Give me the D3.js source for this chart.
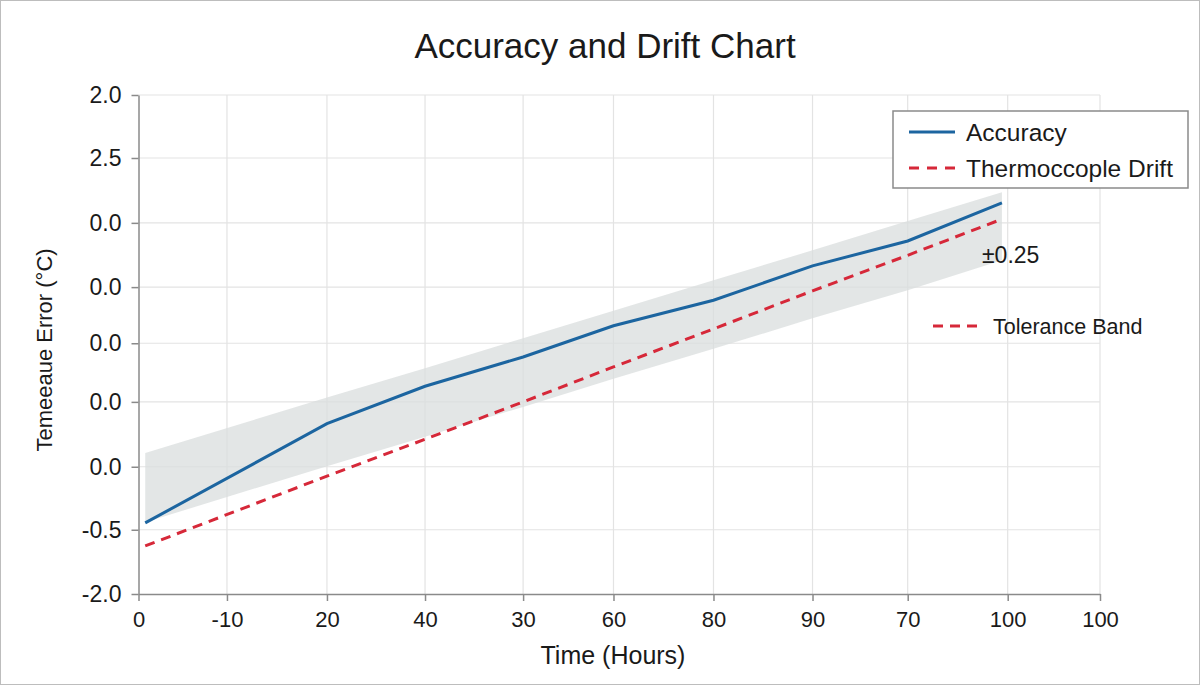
<!DOCTYPE html>
<html>
<head>
<meta charset="utf-8">
<script src="https://cdn.jsdelivr.net/npm/d3@7"></script>
<style>
  body { margin: 0; background: #fff; }
  text { font-family: "Liberation Sans", Arial, sans-serif; fill: #1a1a1a; }
</style>
</head>
<body>
<div id="chart"></div>
<script>
// Tick positions (axis units) and the labels printed on them
const xTickPos = [0, 0.92, 1.96, 2.98, 4.0, 4.94, 5.98, 7.01, 8.0, 9.04, 10];
const xTickLabels = ["0", "-10", "20", "40", "30", "60", "80", "90", "70", "100", "100"];
const yTickPos = [0, 1.03, 2.04, 3.08, 4.02, 4.92, 5.95, 6.99, 8];
const yTickLabels = ["-2.0", "-0.5", "0.0", "0.0", "0.0", "0.0", "0.0", "2.5", "2.0"];

// Series values
const timePos = [0.07, 1.96, 2.98, 4.0, 4.94, 5.98, 7.01, 8.0, 8.98];
const accuracy = [1.14, 2.73, 3.33, 3.80, 4.30, 4.71, 5.26, 5.66, 6.27];
const drift = [0.77, 1.89, 2.48, 3.08, 3.64, 4.25, 4.86, 5.43, 6.01];
const bandUpper = [2.26, 3.15, 3.62, 4.10, 4.54, 5.03, 5.51, 5.98, 6.44];
const bandLower = [1.15, 2.05, 2.52, 3.00, 3.45, 3.93, 4.42, 4.87, 5.35];

const W = 1200, H = 686;
const margin = { top: 95, right: 100, bottom: 92, left: 138.5 };

const svg = d3.select("#chart").append("svg")
  .attr("width", W)
  .attr("height", H);

// light frame round the picture
svg.append("rect")
  .attr("x", 0.5).attr("y", 0.5)
  .attr("width", W - 1).attr("height", H - 2)
  .attr("fill", "#fff")
  .attr("stroke", "#bdbdbd");

const x = d3.scaleLinear().domain([0, 10]).range([margin.left, W - margin.right]);
const y = d3.scaleLinear().domain([0, 8]).range([H - margin.bottom, margin.top]);

// grid
svg.append("g").selectAll("line").data(xTickPos.slice(1)).enter().append("line")
  .attr("x1", d => x(d)).attr("x2", d => x(d))
  .attr("y1", y(0)).attr("y2", y(8))
  .attr("stroke", "#e3e3e3").attr("stroke-width", 1.2);
svg.append("g").selectAll("line").data(yTickPos.slice(1)).enter().append("line")
  .attr("x1", x(0)).attr("x2", x(10))
  .attr("y1", d => y(d)).attr("y2", d => y(d))
  .attr("stroke", "#e3e3e3").attr("stroke-width", 1.2);

const rows = timePos.map((t, i) => ({
  t: t, acc: accuracy[i], drift: drift[i], hi: bandUpper[i], lo: bandLower[i]
}));

// tolerance band
svg.append("path")
  .datum(rows)
  .attr("fill", "#dadddd")
  .attr("fill-opacity", 0.75)
  .attr("d", d3.area().x(d => x(d.t)).y0(d => y(d.lo)).y1(d => y(d.hi)));

// drift line
svg.append("path")
  .datum(rows)
  .attr("fill", "none")
  .attr("stroke", "#d62839")
  .attr("stroke-width", 3)
  .attr("stroke-dasharray", "10,7")
  .attr("d", d3.line().x(d => x(d.t)).y(d => y(d.drift)));

// accuracy line
svg.append("path")
  .datum(rows)
  .attr("fill", "none")
  .attr("stroke", "#1c65a0")
  .attr("stroke-width", 3)
  .attr("d", d3.line().x(d => x(d.t)).y(d => y(d.acc)));

// axes
const xAxis = svg.append("g")
  .attr("transform", `translate(0,${y(0)})`)
  .call(d3.axisBottom(x).tickValues(xTickPos).tickFormat((d, i) => xTickLabels[i])
    .tickSize(7).tickSizeOuter(0).tickPadding(10));
const yAxis = svg.append("g")
  .attr("transform", `translate(${x(0)},0)`)
  .call(d3.axisLeft(y).tickValues(yTickPos).tickFormat((d, i) => yTickLabels[i])
    .tickSize(7).tickSizeOuter(0).tickPadding(10));

[xAxis, yAxis].forEach(g => {
  g.select(".domain").attr("stroke", "#8a8a8a").attr("stroke-width", 1.5);
  g.selectAll(".tick line").attr("stroke", "#8a8a8a").attr("stroke-width", 1.5);
  g.selectAll(".tick text")
    .style("font-family", "'Liberation Sans', Arial, sans-serif")
    .attr("fill", "#1a1a1a");
});
xAxis.selectAll(".tick text").style("font-size", "22px");
yAxis.selectAll(".tick text").style("font-size", "23px");

// title and axis labels
svg.append("text")
  .attr("x", 605).attr("y", 58)
  .attr("text-anchor", "middle")
  .style("font-size", "35px")
  .text("Accuracy and Drift Chart");

svg.append("text")
  .attr("x", 613).attr("y", 664)
  .attr("text-anchor", "middle")
  .style("font-size", "25px")
  .text("Time (Hours)");

svg.append("text")
  .attr("transform", "translate(52,350) rotate(-90)")
  .attr("text-anchor", "middle")
  .style("font-size", "22px")
  .text("Temeeaue Error (°C)");

// legend
const legend = svg.append("g").attr("transform", "translate(893,111)");
legend.append("rect")
  .attr("width", 295).attr("height", 77)
  .attr("fill", "#fff")
  .attr("stroke", "#8a8a8a").attr("stroke-width", 1.5);
legend.append("line")
  .attr("x1", 16).attr("x2", 62).attr("y1", 21).attr("y2", 21)
  .attr("stroke", "#1c65a0").attr("stroke-width", 3);
legend.append("text").attr("x", 73).attr("y", 30)
  .style("font-size", "24.5px").text("Accuracy");
legend.append("line")
  .attr("x1", 16).attr("x2", 62).attr("y1", 57).attr("y2", 57)
  .attr("stroke", "#d62839").attr("stroke-width", 3)
  .attr("stroke-dasharray", "10,8");
legend.append("text").attr("x", 73).attr("y", 66)
  .style("font-size", "24.5px").text("Thermoccople Drift");

// band annotations
svg.append("text")
  .attr("x", 982).attr("y", 263)
  .style("font-size", "23px")
  .text("±0.25");
svg.append("line")
  .attr("x1", 933).attr("x2", 977).attr("y1", 326).attr("y2", 326)
  .attr("stroke", "#d62839").attr("stroke-width", 3)
  .attr("stroke-dasharray", "10,7");
svg.append("text")
  .attr("x", 993).attr("y", 334)
  .style("font-size", "21.5px")
  .text("Tolerance Band");
</script>
</body>
</html>
